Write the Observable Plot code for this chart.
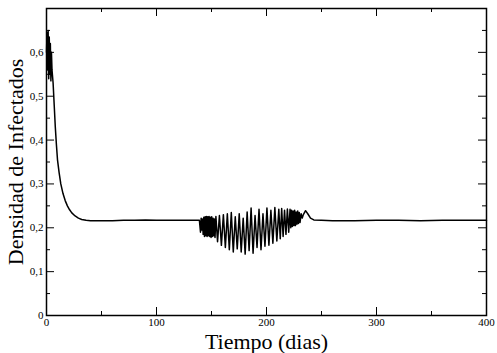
<!DOCTYPE html>
<html>
<head>
<meta charset="utf-8">
<script src="https://cdn.jsdelivr.net/npm/d3@7"></script>
<script src="https://cdn.jsdelivr.net/npm/@observablehq/plot@0.6"></script>
<style>
  html, body { margin: 0; padding: 0; background: white; }
</style>
</head>
<body>
<div id="chart"></div>
<script>
const xLabel = "Tiempo (dias)";
const yLabel = "Densidad de Infectados";
const xMajorTicks = [0, 100, 200, 300, 400];
const xMinorTicks = [50, 150, 250, 350];
const yMajorTicks = [0, 0.1, 0.2, 0.3, 0.4, 0.5, 0.6];
const yMinorTicks = [0.05, 0.15, 0.25, 0.35, 0.45, 0.55, 0.65];

// initial phase: transient and decay
const startDays = [0, 0.5, 1, 1.5, 2, 2.5, 3, 3.5, 4, 4.5, 5, 6, 7, 8, 9, 10, 11.5, 13, 15, 17, 19, 21, 23, 26, 29, 32, 36, 40,
  50, 60, 70, 80, 90, 100, 110, 120, 130, 139];
const startValues = [0.60, 0.645, 0.56, 0.65, 0.54, 0.635, 0.55, 0.62, 0.535, 0.60, 0.56, 0.53, 0.48, 0.43, 0.39, 0.355, 0.325, 0.30, 0.278, 0.262, 0.25, 0.241, 0.234, 0.227, 0.222, 0.219, 0.217, 0.216,
  0.216, 0.216, 0.217, 0.217, 0.218, 0.217, 0.217, 0.217, 0.217, 0.217];

// oscillating phase
const oscDays = [140, 140.6, 141.2, 141.8, 142.4, 143, 143.6, 144.2, 144.8, 145.4,
  146, 146.6, 147.2, 147.8, 148.4, 149, 149.6, 150.2, 150.8, 151.4,
  152, 152.6, 153.2, 154, 155.5, 157.2, 159, 160.8, 162.6, 164.4,
  166.2, 168, 169.8, 171.6, 173.4, 175.2, 177, 178.8, 180.6, 182.4,
  184.2, 186, 187.8, 189.6, 191.4, 193.2, 195, 196.8, 198.6, 200.4,
  202.2, 204, 205.8, 207.6, 209.4, 211.2, 212.5, 213.8, 215.1, 216.4,
  217.7, 219, 220.2, 221.4, 222.1, 222.8, 223.5, 224.2, 224.9, 225.6,
  226.3, 227, 227.7, 228.4, 229.1, 229.8, 230.5, 231.5, 232.5, 233.5,
  235.5, 237.5, 240, 243];
const oscValues = [0.19, 0.222, 0.195, 0.22, 0.185, 0.224, 0.18, 0.225, 0.182, 0.226,
  0.18, 0.225, 0.182, 0.226, 0.18, 0.224, 0.178, 0.225, 0.18, 0.222,
  0.182, 0.22, 0.178, 0.226, 0.168, 0.228, 0.16, 0.23, 0.155, 0.232,
  0.15, 0.235, 0.145, 0.225, 0.152, 0.232, 0.145, 0.222, 0.14, 0.236,
  0.148, 0.245, 0.142, 0.228, 0.155, 0.242, 0.15, 0.232, 0.158, 0.245,
  0.16, 0.24, 0.165, 0.246, 0.17, 0.242, 0.175, 0.244, 0.18, 0.24,
  0.185, 0.243, 0.19, 0.242, 0.20, 0.24, 0.203, 0.238, 0.205, 0.24,
  0.205, 0.236, 0.208, 0.238, 0.21, 0.235, 0.212, 0.232, 0.222, 0.23,
  0.239, 0.232, 0.222, 0.218];

// final steady state
const endDays = [250, 260, 280, 300, 320, 340, 360, 380, 400];
const endValues = [0.217, 0.216, 0.216, 0.217, 0.217, 0.216, 0.217, 0.217, 0.217];

const days = [...startDays, ...oscDays, ...endDays];
const density = [...startValues, ...oscValues, ...endValues];
const data = days.map((d, i) => ({day: d, value: density[i]}));
const fmtY = d => d === 0 ? "0" : d.toFixed(1).replace(".", ",");

const W = 497, H = 353, mL = 46, mR = 11, mT = 8, mB = 38;
const innerH = H - mT - mB;
const innerW = W - mL - mR;
const majorLen = 8, minorLen = 4;
const serif = "Liberation Serif, Times New Roman, serif";

const chart = Plot.plot({
  width: W, height: H,
  marginLeft: mL, marginRight: mR, marginTop: mT, marginBottom: mB,
  x: {domain: [0, 400]},
  y: {domain: [0, 0.7]},
  style: {fontFamily: serif, background: "white", color: "black"},
  marks: [
    Plot.tickX(xMajorTicks, {x: d => d, insetTop: innerH - majorLen, stroke: "black", strokeWidth: 1}),
    Plot.tickX(xMajorTicks, {x: d => d, insetBottom: innerH - majorLen, stroke: "black", strokeWidth: 1}),
    Plot.tickX(xMinorTicks, {x: d => d, insetTop: innerH - minorLen, stroke: "black", strokeWidth: 1}),
    Plot.tickX(xMinorTicks, {x: d => d, insetBottom: innerH - minorLen, stroke: "black", strokeWidth: 1}),
    Plot.tickY(yMajorTicks, {y: d => d, insetRight: innerW - majorLen, stroke: "black", strokeWidth: 1}),
    Plot.tickY(yMajorTicks, {y: d => d, insetLeft: innerW - majorLen, stroke: "black", strokeWidth: 1}),
    Plot.tickY(yMinorTicks, {y: d => d, insetRight: innerW - minorLen, stroke: "black", strokeWidth: 1}),
    Plot.tickY(yMinorTicks, {y: d => d, insetLeft: innerW - minorLen, stroke: "black", strokeWidth: 1}),
    Plot.axisX({ticks: xMajorTicks, tickSize: 0, tickPadding: 3, tickFormat: d => String(d), fontSize: 11, fontFamily: serif, label: null}),
    Plot.axisY({ticks: yMajorTicks, tickSize: 0, tickPadding: 3, tickFormat: fmtY, fontSize: 11, fontFamily: serif, label: null}),
    Plot.line(data, {x: "day", y: "value", stroke: "black", strokeWidth: 1.5, strokeLinejoin: "round"}),
    Plot.frame({stroke: "black", strokeWidth: 1.5}),
    Plot.text([xLabel], {text: d => d, frameAnchor: "bottom", dy: 33, lineAnchor: "bottom", fontSize: 22, fontFamily: serif}),
    Plot.text([yLabel], {text: d => d, frameAnchor: "left", textAnchor: "middle", rotate: -90, dx: -24, lineAnchor: "bottom", fontSize: 22, fontFamily: serif})
  ]
});
document.getElementById("chart").appendChild(chart);
</script>
</body>
</html>
